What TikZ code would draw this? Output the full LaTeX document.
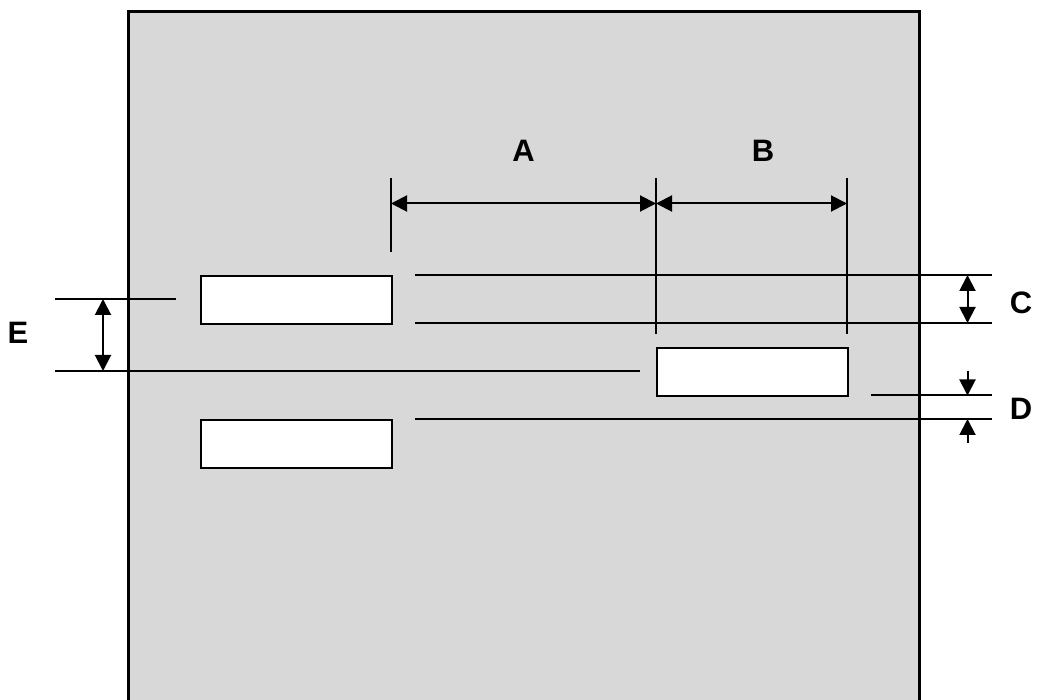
\documentclass[tikz,border=0pt]{standalone}
\usepackage{fontspec}
\setmainfont{Liberation Sans}
\usetikzlibrary{arrows.meta}
\definecolor{panelgray}{RGB}{216,216,216}
\tikzset{
  dimline/.style={line width=2pt},
  dimarrow/.style={line width=2pt,{Triangle[length=16pt,width=16pt]}-{Triangle[length=16pt,width=16pt]}},
  onearrow/.style={line width=2pt,-{Triangle[length=16pt,width=16pt]}},
  plate/.style={draw,line width=2pt,fill=white,minimum width=191pt,minimum height=48pt,inner sep=0pt,anchor=north west},
  dimlabel/.style={font=\fontsize{31}{31}\selectfont\bfseries,inner sep=0pt}
}
\begin{document}
\begin{tikzpicture}[x=1pt,y=-1pt]
\useasboundingbox (0,0) rectangle (1039,700);
% panel
\fill[panelgray] (128,11.5) rectangle (919,702);
\draw[line width=3pt] (128,702) -- (128,11.5) -- (919,11.5) -- (919,702);
% plates
\node[plate] (p1) at (200,275) {};
\node[plate] (p2) at (656,347) {};
\node[plate] (p3) at (200,419) {};
% extension lines for A and B
\coordinate (a1t) at (391,178); \coordinate (a1b) at (391,252);
\coordinate (a2t) at (656,178); \coordinate (a2b) at (656,334);
\coordinate (a3t) at (847,178); \coordinate (a3b) at (847,334);
\draw[dimline] (a1t) -- (a1b);
\draw[dimline] (a2t) -- (a2b);
\draw[dimline] (a3t) -- (a3b);
\coordinate (da1) at (391,203.5); \coordinate (da2) at (656,203.5); \coordinate (da3) at (847,203.5);
\draw[dimarrow] (da1) -- (da2);
\draw[dimarrow] (da2) -- (da3);
% horizontal reference lines
\coordinate (h1l) at (415,275); \coordinate (h1r) at (992,275);
\coordinate (h2l) at (415,323); \coordinate (h2r) at (992,323);
\coordinate (h3l) at (871,395.5); \coordinate (h3r) at (992,395.5);
\coordinate (h4l) at (415,419); \coordinate (h4r) at (992,419);
\coordinate (e1l) at (55,299); \coordinate (e1r) at (176,299);
\coordinate (e2l) at (55,371); \coordinate (e2r) at (640,371);
\draw[dimline] (h1l) -- (h1r);
\draw[dimline] (h2l) -- (h2r);
\draw[dimline] (h3l) -- (h3r);
\draw[dimline] (h4l) -- (h4r);
\draw[dimline] (e1l) -- (e1r);
\draw[dimline] (e2l) -- (e2r);
% C arrow
\coordinate (c1) at (967.5,275); \coordinate (c2) at (967.5,323);
\draw[dimarrow] (c1) -- (c2);
% D arrows
\coordinate (d0) at (967.5,371); \coordinate (d1) at (967.5,395.5);
\coordinate (d2) at (967.5,419); \coordinate (d3) at (967.5,443);
\draw[onearrow] (d0) -- (d1);
\draw[onearrow] (d3) -- (d2);
% E arrow
\coordinate (ea) at (103,299); \coordinate (eb) at (103,371);
\draw[dimarrow] (ea) -- (eb);
% labels
\node[dimlabel] (lA) at (523.5,150.5) {A};
\node[dimlabel] (lB) at (763,150.5) {B};
\node[dimlabel] (lC) at (1021,303) {C};
\node[dimlabel] (lD) at (1021,408.5) {D};
\node[dimlabel] (lE) at (18,333) {E};
\end{tikzpicture}
\end{document}
